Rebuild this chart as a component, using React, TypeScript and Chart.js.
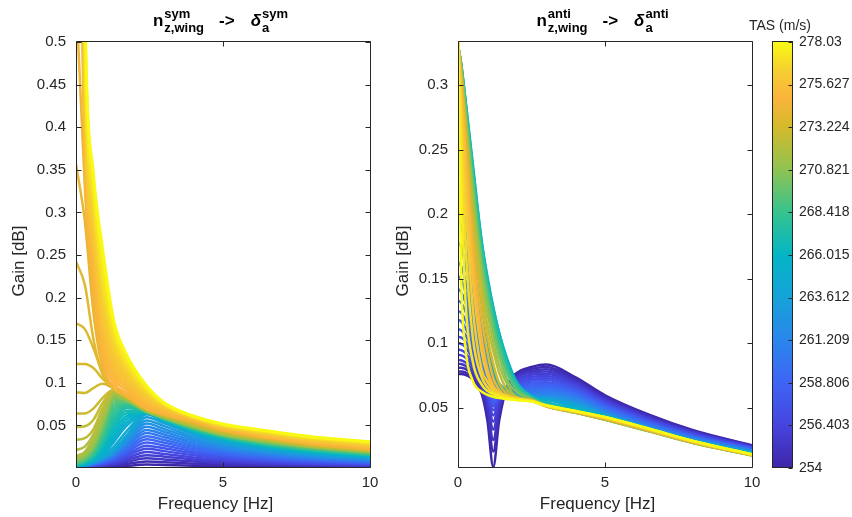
import React, { useEffect, useRef } from 'react';
import { Chart, registerables } from 'chart.js';

Chart.register(...registerables);

const FONT = "'Liberation Sans', Arial, Helvetica, sans-serif";
const INK = '#262626';

// ---------------- data ----------------
const TAS_MIN = 254;
const TAS_MAX = 278.03;

const FREQ_TICKS = [0, 5, 10];
const SYM_Y_TICKS = [0.05, 0.1, 0.15, 0.2, 0.25, 0.3, 0.35, 0.4, 0.45, 0.5];
const ANTI_Y_TICKS = [0.05, 0.1, 0.15, 0.2, 0.25, 0.3];
const COLORBAR_TICKS = [254, 256.403, 258.806, 261.209, 263.612, 266.015, 268.418, 270.821, 273.224, 275.627, 278.03];
const COLORBAR_LABELS = ['254', '256.403', '258.806', '261.209', '263.612', '266.015', '268.418', '270.821', '273.224', '275.627', '278.03'];

// left panel: n_z,wing^sym -> delta_a^sym
const SYM_FREQ = [0, 0.3, 0.6, 0.9, 1.3, 1.7, 2.4, 3, 4, 5, 6.5, 8, 10];
const SYM_TAS = [
  254.00, 254.63, 255.26, 255.89, 256.52, 257.15, 257.78, 258.42, 259.05, 259.68, 260.31, 260.94, 261.57, 262.20, 262.83, 263.46, 264.09,
  264.45,
  264.81, 265.23, 265.65, 266.08, 266.50, 266.92, 267.34, 267.76, 268.18, 268.60, 269.02, 269.44, 269.86, 270.28, 270.70, 271.06, 271.42,
  271.90, 272.14, 272.38, 272.62, 272.86, 273.10, 273.34, 273.58, 273.82, 274.07, 274.31,
  274.67, 274.85, 275.03, 275.21, 275.39, 275.57, 275.75, 275.93, 276.11, 276.29, 276.47, 276.65, 276.83, 277.01, 277.19, 277.37, 277.55, 277.79, 278.03,
];
const SYM_GAIN = [
  [0.0001, 0.0002, 0.0005, 0.0008, 0.0014, 0.0024, 0.0040, 0.0035, 0.0026, 0.0020, 0.0014, 0.0011, 0.0008],
  [0.0002, 0.0005, 0.0009, 0.0015, 0.0027, 0.0046, 0.0077, 0.0068, 0.0051, 0.0039, 0.0028, 0.0021, 0.0015],
  [0.0003, 0.0007, 0.0014, 0.0023, 0.0040, 0.0068, 0.0114, 0.0100, 0.0075, 0.0057, 0.0041, 0.0031, 0.0023],
  [0.0005, 0.0009, 0.0018, 0.0030, 0.0053, 0.0091, 0.0151, 0.0133, 0.0100, 0.0076, 0.0054, 0.0041, 0.0030],
  [0.0006, 0.0011, 0.0023, 0.0038, 0.0066, 0.0113, 0.0188, 0.0165, 0.0124, 0.0094, 0.0068, 0.0051, 0.0038],
  [0.0007, 0.0014, 0.0027, 0.0045, 0.0079, 0.0135, 0.0225, 0.0198, 0.0149, 0.0113, 0.0081, 0.0061, 0.0045],
  [0.0008, 0.0016, 0.0031, 0.0052, 0.0092, 0.0157, 0.0262, 0.0231, 0.0173, 0.0131, 0.0094, 0.0071, 0.0052],
  [0.0009, 0.0018, 0.0036, 0.0060, 0.0105, 0.0179, 0.0299, 0.0263, 0.0197, 0.0150, 0.0108, 0.0081, 0.0060],
  [0.0010, 0.0020, 0.0040, 0.0067, 0.0118, 0.0202, 0.0336, 0.0296, 0.0222, 0.0168, 0.0121, 0.0091, 0.0067],
  [0.0011, 0.0022, 0.0045, 0.0075, 0.0131, 0.0224, 0.0373, 0.0328, 0.0246, 0.0187, 0.0134, 0.0101, 0.0075],
  [0.0012, 0.0025, 0.0049, 0.0082, 0.0144, 0.0246, 0.0410, 0.0361, 0.0271, 0.0205, 0.0148, 0.0111, 0.0082],
  [0.0013, 0.0027, 0.0054, 0.0089, 0.0156, 0.0268, 0.0447, 0.0393, 0.0295, 0.0224, 0.0161, 0.0121, 0.0089],
  [0.0015, 0.0029, 0.0058, 0.0097, 0.0169, 0.0290, 0.0484, 0.0426, 0.0319, 0.0242, 0.0174, 0.0131, 0.0097],
  [0.0016, 0.0031, 0.0063, 0.0104, 0.0182, 0.0313, 0.0521, 0.0458, 0.0344, 0.0261, 0.0188, 0.0141, 0.0104],
  [0.0017, 0.0033, 0.0067, 0.0112, 0.0195, 0.0335, 0.0558, 0.0491, 0.0368, 0.0279, 0.0201, 0.0151, 0.0112],
  [0.0018, 0.0036, 0.0071, 0.0119, 0.0208, 0.0357, 0.0595, 0.0524, 0.0393, 0.0298, 0.0214, 0.0161, 0.0119],
  [0.0019, 0.0038, 0.0076, 0.0126, 0.0221, 0.0378, 0.0630, 0.0554, 0.0416, 0.0315, 0.0227, 0.0170, 0.0126],
  [0.0017, 0.0039, 0.0078, 0.0135, 0.0255, 0.0425, 0.0635, 0.0550, 0.0418, 0.0322, 0.0234, 0.0175, 0.0128],
  [0.001, 0.004, 0.008, 0.015, 0.031, 0.049, 0.064, 0.055, 0.042, 0.033, 0.024, 0.018, 0.013],
  [0.0015, 0.0045, 0.009, 0.017, 0.035, 0.053, 0.0645, 0.0555, 0.0425, 0.0335, 0.0245, 0.0185, 0.0135],
  [0.002, 0.005, 0.010, 0.019, 0.039, 0.057, 0.065, 0.056, 0.043, 0.034, 0.025, 0.019, 0.014],
  [0.0025, 0.0055, 0.011, 0.0215, 0.0435, 0.0605, 0.065, 0.0565, 0.0435, 0.0345, 0.0255, 0.0195, 0.0145],
  [0.003, 0.006, 0.012, 0.024, 0.048, 0.064, 0.065, 0.057, 0.044, 0.035, 0.026, 0.020, 0.015],
  [0.0035, 0.0065, 0.013, 0.0265, 0.0525, 0.067, 0.0655, 0.057, 0.0445, 0.0355, 0.0265, 0.0205, 0.0152],
  [0.004, 0.007, 0.014, 0.029, 0.057, 0.070, 0.066, 0.057, 0.045, 0.036, 0.027, 0.021, 0.0155],
  [0.0045, 0.0075, 0.0155, 0.032, 0.0615, 0.072, 0.066, 0.0575, 0.0455, 0.0365, 0.0275, 0.0215, 0.0157],
  [0.005, 0.008, 0.017, 0.035, 0.066, 0.074, 0.066, 0.058, 0.046, 0.037, 0.028, 0.022, 0.016],
  [0.0055, 0.009, 0.0185, 0.038, 0.070, 0.0755, 0.066, 0.058, 0.0465, 0.0375, 0.0285, 0.0225, 0.0165],
  [0.006, 0.010, 0.020, 0.041, 0.074, 0.077, 0.066, 0.058, 0.047, 0.038, 0.029, 0.023, 0.017],
  [0.007, 0.011, 0.0215, 0.044, 0.077, 0.078, 0.066, 0.0585, 0.0475, 0.0385, 0.0295, 0.0235, 0.0175],
  [0.008, 0.012, 0.023, 0.047, 0.080, 0.079, 0.066, 0.059, 0.048, 0.039, 0.030, 0.024, 0.018],
  [0.009, 0.013, 0.025, 0.0495, 0.082, 0.0795, 0.0665, 0.059, 0.048, 0.039, 0.0305, 0.0245, 0.0185],
  [0.010, 0.014, 0.027, 0.052, 0.084, 0.080, 0.067, 0.059, 0.048, 0.039, 0.031, 0.025, 0.019],
  [0.011, 0.015, 0.029, 0.0545, 0.0855, 0.0805, 0.067, 0.0595, 0.0485, 0.0395, 0.0315, 0.025, 0.019],
  [0.012, 0.016, 0.031, 0.057, 0.087, 0.081, 0.067, 0.060, 0.049, 0.040, 0.032, 0.025, 0.019],
  [0.014, 0.019, 0.036, 0.062, 0.089, 0.082, 0.068, 0.061, 0.050, 0.041, 0.033, 0.026, 0.020],
  [0.021, 0.025, 0.040, 0.066, 0.090, 0.083, 0.068, 0.061, 0.050, 0.041, 0.033, 0.026, 0.020],
  [0.033, 0.035, 0.046, 0.070, 0.091, 0.083, 0.069, 0.061, 0.051, 0.042, 0.033, 0.026, 0.0205],
  [0.048, 0.049, 0.057, 0.076, 0.092, 0.084, 0.069, 0.062, 0.051, 0.042, 0.034, 0.027, 0.021],
  [0.064, 0.064, 0.070, 0.082, 0.092, 0.084, 0.069, 0.062, 0.052, 0.043, 0.034, 0.027, 0.021],
  [0.089, 0.088, 0.094, 0.099, 0.093, 0.084, 0.069, 0.062, 0.052, 0.043, 0.034, 0.027, 0.021],
  [0.122, 0.122, 0.117, 0.105, 0.093, 0.085, 0.069, 0.062, 0.053, 0.043, 0.035, 0.028, 0.0215],
  [0.170, 0.163, 0.140, 0.112, 0.093, 0.085, 0.069, 0.062, 0.053, 0.044, 0.035, 0.028, 0.0215],
  [0.242, 0.215, 0.150, 0.110, 0.093, 0.085, 0.070, 0.063, 0.054, 0.044, 0.035, 0.028, 0.022],
  [0.357, 0.290, 0.180, 0.118, 0.093, 0.085, 0.070, 0.063, 0.054, 0.044, 0.036, 0.028, 0.022],
  [0.560, 0.330, 0.195, 0.122, 0.093, 0.085, 0.070, 0.063, 0.054, 0.045, 0.036, 0.029, 0.0225],
  [0.90, 0.355, 0.215, 0.128, 0.094, 0.085, 0.070, 0.063, 0.055, 0.045, 0.036, 0.029, 0.023],
  [0.95, 0.368, 0.225, 0.1365, 0.099, 0.0885, 0.072, 0.0645, 0.0555, 0.0455, 0.0365, 0.0295, 0.0235],
  [1.00, 0.380, 0.235, 0.145, 0.104, 0.092, 0.074, 0.066, 0.056, 0.046, 0.037, 0.030, 0.024],
  [1.05, 0.390, 0.2435, 0.1525, 0.109, 0.095, 0.0755, 0.067, 0.0565, 0.0465, 0.0375, 0.0305, 0.0245],
  [1.10, 0.400, 0.252, 0.160, 0.114, 0.098, 0.077, 0.068, 0.057, 0.047, 0.038, 0.031, 0.025],
  [1.15, 0.410, 0.260, 0.1675, 0.119, 0.101, 0.079, 0.069, 0.0575, 0.0475, 0.0385, 0.0315, 0.0255],
  [1.20, 0.420, 0.268, 0.175, 0.124, 0.104, 0.081, 0.070, 0.058, 0.048, 0.039, 0.032, 0.026],
  [1.25, 0.430, 0.2755, 0.1825, 0.1285, 0.107, 0.0825, 0.071, 0.058, 0.0485, 0.0395, 0.0325, 0.0265],
  [1.30, 0.440, 0.283, 0.190, 0.133, 0.110, 0.084, 0.072, 0.058, 0.049, 0.040, 0.033, 0.027],
  [1.35, 0.455, 0.290, 0.1975, 0.1375, 0.113, 0.0855, 0.0725, 0.0585, 0.049, 0.0405, 0.0335, 0.0275],
  [1.40, 0.470, 0.297, 0.205, 0.142, 0.116, 0.087, 0.073, 0.059, 0.049, 0.041, 0.034, 0.028],
  [1.45, 0.480, 0.3035, 0.2115, 0.1465, 0.1185, 0.0885, 0.0735, 0.0595, 0.0495, 0.0415, 0.0345, 0.0285],
  [1.50, 0.490, 0.310, 0.218, 0.151, 0.121, 0.090, 0.074, 0.060, 0.050, 0.042, 0.035, 0.029],
  [1.57, 0.500, 0.316, 0.225, 0.155, 0.1235, 0.0915, 0.0745, 0.060, 0.0505, 0.0425, 0.0355, 0.0295],
  [1.65, 0.510, 0.322, 0.232, 0.159, 0.126, 0.093, 0.075, 0.060, 0.051, 0.043, 0.036, 0.030],
  [1.72, 0.525, 0.328, 0.239, 0.162, 0.1285, 0.094, 0.0755, 0.0605, 0.051, 0.043, 0.036, 0.0302],
  [1.80, 0.540, 0.334, 0.246, 0.165, 0.131, 0.095, 0.076, 0.061, 0.051, 0.043, 0.036, 0.0305],
  [1.90, 0.555, 0.3395, 0.253, 0.1685, 0.133, 0.096, 0.0765, 0.061, 0.0515, 0.0435, 0.0365, 0.0308],
  [2.00, 0.570, 0.345, 0.260, 0.172, 0.135, 0.097, 0.077, 0.061, 0.052, 0.044, 0.037, 0.031],
];

// right panel: n_z,wing^anti -> delta_a^anti
const ANTI_FREQ = [0, 0.1, 0.25, 0.5, 0.8, 1.0, 1.2, 1.4, 1.7, 2.0, 2.5, 3, 4, 5, 6.5, 8, 10];
const ANTI_TAS = [
  254.00, 254.48, 254.96, 255.44, 255.92, 256.40, 256.88, 257.36, 257.84, 258.33, 258.81,
  259.29, 259.77, 260.25, 260.73, 261.21, 261.93, 262.65, 263.37, 264.09, 264.81,
  265.53, 266.50, 267.46, 268.42, 269.38, 270.34, 271.30, 272.26, 273.22, 274.19, 274.91, 275.63, 276.23, 276.83, 277.43, 278.03,
];
const ANTI_GAIN = [
  [0.076, 0.0762, 0.0755, 0.072, 0.061, 0.040, 0.004, 0.040, 0.068, 0.077, 0.0815, 0.0834, 0.0735, 0.0596, 0.0445, 0.0325, 0.0208],
  [0.078, 0.0781, 0.0773, 0.0735, 0.0625, 0.046, 0.016, 0.045, 0.067, 0.0755, 0.0800, 0.0815, 0.0722, 0.0585, 0.0437, 0.0319, 0.0205],
  [0.081, 0.0809, 0.080, 0.0755, 0.064, 0.050, 0.025, 0.049, 0.066, 0.075, 0.0785, 0.0797, 0.071, 0.0575, 0.043, 0.0314, 0.0202],
  [0.084, 0.0838, 0.0825, 0.0775, 0.0655, 0.054, 0.033, 0.052, 0.065, 0.0735, 0.077, 0.078, 0.0698, 0.0566, 0.0423, 0.0309, 0.0199],
  [0.087, 0.0868, 0.0852, 0.0795, 0.067, 0.057, 0.039, 0.0545, 0.0645, 0.072, 0.0755, 0.0763, 0.0686, 0.0557, 0.0416, 0.0304, 0.0196],
  [0.091, 0.0907, 0.0888, 0.082, 0.0685, 0.059, 0.044, 0.0565, 0.064, 0.0705, 0.074, 0.0746, 0.0674, 0.0548, 0.0409, 0.0299, 0.0193],
  [0.095, 0.0946, 0.0925, 0.0845, 0.070, 0.061, 0.048, 0.058, 0.0635, 0.069, 0.0725, 0.073, 0.0662, 0.0539, 0.0403, 0.0294, 0.019],
  [0.100, 0.0995, 0.097, 0.0875, 0.0715, 0.0625, 0.051, 0.059, 0.063, 0.0675, 0.071, 0.0714, 0.065, 0.053, 0.0397, 0.0289, 0.0187],
  [0.105, 0.1045, 0.1015, 0.0905, 0.073, 0.064, 0.053, 0.0595, 0.0625, 0.066, 0.0695, 0.0698, 0.0639, 0.0522, 0.0391, 0.0285, 0.0184],
  [0.111, 0.110, 0.1065, 0.094, 0.075, 0.065, 0.055, 0.0595, 0.062, 0.065, 0.068, 0.0683, 0.0628, 0.0514, 0.0385, 0.0281, 0.0181],
  [0.118, 0.117, 0.112, 0.098, 0.077, 0.066, 0.057, 0.0595, 0.0615, 0.064, 0.0665, 0.0668, 0.0617, 0.0506, 0.0379, 0.0277, 0.0178],
  [0.125, 0.1238, 0.118, 0.102, 0.079, 0.0675, 0.059, 0.060, 0.061, 0.063, 0.065, 0.0654, 0.0607, 0.0498, 0.0373, 0.0273, 0.0175],
  [0.133, 0.1315, 0.125, 0.1065, 0.081, 0.069, 0.0605, 0.0605, 0.0607, 0.062, 0.0637, 0.064, 0.0597, 0.049, 0.0367, 0.0269, 0.0172],
  [0.142, 0.140, 0.132, 0.111, 0.084, 0.071, 0.062, 0.061, 0.0605, 0.061, 0.0624, 0.0627, 0.0587, 0.0482, 0.0361, 0.0265, 0.0169],
  [0.152, 0.150, 0.140, 0.116, 0.087, 0.073, 0.0635, 0.0615, 0.0605, 0.0605, 0.0612, 0.0614, 0.0578, 0.0474, 0.0355, 0.0261, 0.0166],
  [0.163, 0.160, 0.149, 0.122, 0.090, 0.0755, 0.065, 0.062, 0.0605, 0.060, 0.0601, 0.0602, 0.0565, 0.0467, 0.035, 0.0257, 0.0163],
  [0.178, 0.175, 0.161, 0.130, 0.094, 0.078, 0.067, 0.063, 0.0605, 0.0597, 0.0592, 0.059, 0.0552, 0.046, 0.0345, 0.0253, 0.016],
  [0.196, 0.192, 0.176, 0.139, 0.099, 0.081, 0.069, 0.064, 0.061, 0.0595, 0.0584, 0.058, 0.054, 0.0453, 0.034, 0.0249, 0.0157],
  [0.218, 0.213, 0.193, 0.150, 0.105, 0.085, 0.0715, 0.065, 0.0612, 0.0594, 0.0577, 0.0572, 0.0528, 0.0447, 0.0335, 0.0245, 0.0154],
  [0.245, 0.239, 0.214, 0.163, 0.112, 0.090, 0.075, 0.0665, 0.0618, 0.0595, 0.0572, 0.0565, 0.0516, 0.0442, 0.0331, 0.0242, 0.0151],
  [0.280, 0.272, 0.240, 0.180, 0.122, 0.097, 0.079, 0.069, 0.063, 0.060, 0.057, 0.056, 0.0505, 0.0438, 0.0327, 0.0239, 0.0148],
  [0.330, 0.318, 0.290, 0.240, 0.180, 0.152, 0.128, 0.108, 0.086, 0.070, 0.059, 0.0545, 0.0495, 0.0435, 0.034, 0.0245, 0.0145],
  [0.3305, 0.318, 0.289, 0.237, 0.180, 0.150, 0.127, 0.108, 0.084, 0.069, 0.0585, 0.0538, 0.0485, 0.0428, 0.0334, 0.024, 0.0141],
  [0.331, 0.318, 0.288, 0.234, 0.177, 0.147, 0.123, 0.104, 0.081, 0.068, 0.058, 0.053, 0.0477, 0.0421, 0.0328, 0.0235, 0.0137],
  [0.3315, 0.317, 0.286, 0.231, 0.172, 0.143, 0.119, 0.100, 0.079, 0.066, 0.0575, 0.0522, 0.0469, 0.0414, 0.0322, 0.023, 0.0133],
  [0.332, 0.316, 0.283, 0.226, 0.166, 0.138, 0.113, 0.095, 0.075, 0.064, 0.057, 0.0516, 0.0463, 0.0408, 0.0318, 0.0227, 0.013],
  [0.3322, 0.315, 0.280, 0.221, 0.160, 0.132, 0.108, 0.090, 0.070, 0.062, 0.0566, 0.0512, 0.046, 0.0405, 0.0316, 0.0225, 0.0129],
  [0.3325, 0.314, 0.276, 0.213, 0.152, 0.124, 0.101, 0.083, 0.067, 0.0585, 0.0562, 0.051, 0.046, 0.0406, 0.0317, 0.0226, 0.013],
  [0.3328, 0.312, 0.272, 0.205, 0.144, 0.114, 0.094, 0.077, 0.063, 0.058, 0.056, 0.051, 0.0462, 0.0408, 0.0319, 0.0228, 0.0131],
  [0.333, 0.310, 0.267, 0.194, 0.134, 0.105, 0.084, 0.069, 0.060, 0.057, 0.0558, 0.051, 0.0464, 0.0411, 0.0322, 0.023, 0.0132],
  [0.3332, 0.307, 0.258, 0.178, 0.120, 0.093, 0.073, 0.064, 0.058, 0.0565, 0.0556, 0.0511, 0.0466, 0.0414, 0.0325, 0.0232, 0.0134],
  [0.3334, 0.303, 0.248, 0.165, 0.105, 0.080, 0.067, 0.061, 0.058, 0.0565, 0.0554, 0.0512, 0.0468, 0.0417, 0.0328, 0.0234, 0.0135],
  [0.3335, 0.297, 0.235, 0.150, 0.094, 0.075, 0.066, 0.062, 0.059, 0.0575, 0.0552, 0.0514, 0.047, 0.042, 0.033, 0.0236, 0.0136],
  [0.3336, 0.289, 0.215, 0.128, 0.080, 0.070, 0.064, 0.061, 0.0585, 0.057, 0.0551, 0.0515, 0.0471, 0.0423, 0.0332, 0.0238, 0.0137],
  [0.3336, 0.272, 0.180, 0.105, 0.074, 0.066, 0.062, 0.060, 0.058, 0.0567, 0.055, 0.0516, 0.0472, 0.0425, 0.0334, 0.024, 0.0137],
  [0.3335, 0.235, 0.135, 0.086, 0.068, 0.063, 0.0605, 0.059, 0.0573, 0.0562, 0.0549, 0.0517, 0.0473, 0.0427, 0.0336, 0.0241, 0.0138],
  [0.333, 0.158, 0.097, 0.071, 0.0625, 0.060, 0.0585, 0.0575, 0.0565, 0.0557, 0.0548, 0.0518, 0.0474, 0.0428, 0.0337, 0.0242, 0.0138],
];

// ---------------- colour map (parula-like) ----------------
const PARULA: number[][] = [
  [0.0, 62, 38, 168],
  [0.1, 70, 68, 222],
  [0.2, 62, 100, 245],
  [0.3, 42, 134, 236],
  [0.4, 22, 162, 216],
  [0.5, 4, 181, 198],
  [0.6, 54, 195, 142],
  [0.7, 143, 195, 82],
  [0.8, 212, 186, 43],
  [0.87, 251, 180, 60],
  [0.93, 246, 205, 50],
  [1.0, 249, 250, 20],
];

function parula(t: number): string {
  const u = Math.min(1, Math.max(0, t));
  for (let i = 1; i < PARULA.length; i++) {
    const b = PARULA[i];
    if (u <= b[0]) {
      const a = PARULA[i - 1];
      const k = (u - a[0]) / (b[0] - a[0]);
      const c = [1, 2, 3].map((j) => Math.round(a[j] + (b[j] - a[j]) * k));
      return `rgb(${c[0]},${c[1]},${c[2]})`;
    }
  }
  const l = PARULA[PARULA.length - 1];
  return `rgb(${l[1]},${l[2]},${l[3]})`;
}

const tasColor = (t: number) => parula((t - TAS_MIN) / (TAS_MAX - TAS_MIN));

// ---------------- plugins ----------------
type TitlePart = { text?: string; italic?: boolean; sup?: string; sub?: string; gap?: number };

function drawTitle(ctx: CanvasRenderingContext2D, cx: number, base: number, parts: TitlePart[]) {
  const MAIN = `bold 17px ${FONT}`;
  const MAIN_IT = `italic bold 17px ${FONT}`;
  const SMALL = `bold 13px ${FONT}`;
  const widths = parts.map((p) => {
    if (p.gap) return p.gap;
    if (p.text) {
      ctx.font = p.italic ? MAIN_IT : MAIN;
      return ctx.measureText(p.text).width;
    }
    ctx.font = SMALL;
    return Math.max(ctx.measureText(p.sup || '').width, ctx.measureText(p.sub || '').width) + 1;
  });
  const total = widths.reduce((s, w) => s + w, 0);
  let x = cx - total / 2;
  ctx.fillStyle = '#000';
  ctx.textAlign = 'left';
  ctx.textBaseline = 'alphabetic';
  parts.forEach((p, i) => {
    if (p.text) {
      ctx.font = p.italic ? MAIN_IT : MAIN;
      ctx.fillText(p.text, x, base);
    } else if (!p.gap) {
      ctx.font = SMALL;
      if (p.sup) ctx.fillText(p.sup, x + 1, base - 8);
      if (p.sub) ctx.fillText(p.sub, x + 1, base + 5.5);
    }
    x += widths[i];
  });
}

function axesPlugin(cfg: {
  title: TitlePart[];
  xLabel: string;
  yLabel: string;
  yLabelX: number;
  yTicks: number[];
}) {
  return {
    id: 'matlabAxes',
    afterDraw(chart: any) {
      const { ctx, chartArea: a, scales } = chart;
      ctx.save();
      ctx.strokeStyle = INK;
      ctx.lineWidth = 1;
      const L = Math.round(a.left) + 0.5;
      const R = Math.round(a.right) + 0.5;
      const T = Math.round(a.top) - 0.5;
      const B = Math.round(a.bottom) - 0.5;
      ctx.beginPath();
      ctx.moveTo(L, T); ctx.lineTo(R, T); ctx.lineTo(R, B); ctx.lineTo(L, B); ctx.closePath();
      ctx.stroke();
      const TL = 5;
      ctx.beginPath();
      FREQ_TICKS.forEach((v) => {
        const px = Math.round(scales.x.getPixelForValue(v)) + 0.5;
        ctx.moveTo(px, B); ctx.lineTo(px, B - TL);
        ctx.moveTo(px, T); ctx.lineTo(px, T + TL);
      });
      cfg.yTicks.forEach((v) => {
        const py = Math.round(scales.y.getPixelForValue(v)) + 0.5;
        ctx.moveTo(L, py); ctx.lineTo(L + TL, py);
        ctx.moveTo(R, py); ctx.lineTo(R - TL, py);
      });
      ctx.stroke();

      const cx = (a.left + a.right) / 2;
      drawTitle(ctx, cx - 2.5, 26, cfg.title);

      ctx.fillStyle = INK;
      ctx.font = `17px ${FONT}`;
      ctx.textAlign = 'center';
      ctx.textBaseline = 'alphabetic';
      ctx.fillText(cfg.xLabel, cx - 7.5, 509);

      ctx.save();
      ctx.translate(cfg.yLabelX, 261);
      ctx.rotate(-Math.PI / 2);
      ctx.textBaseline = 'middle';
      ctx.fillText(cfg.yLabel, 0, 0);
      ctx.restore();
      ctx.restore();
    },
  };
}

const colorbarPlugin = {
  id: 'colorbarFrame',
  afterDraw(chart: any) {
    const { ctx, chartArea: a, scales } = chart;
    ctx.save();
    ctx.strokeStyle = INK;
    ctx.lineWidth = 1;
    const L = Math.round(a.left) + 0.5;
    const R = Math.round(a.right) - 0.5;
    const T = Math.round(a.top) - 0.5;
    const B = Math.round(a.bottom) - 0.5;
    ctx.strokeRect(L, T, R - L, B - T);
    ctx.beginPath();
    COLORBAR_TICKS.forEach((v) => {
      const py = Math.round(scales.y.getPixelForValue(v)) + 0.5;
      ctx.moveTo(R, py); ctx.lineTo(R - 4, py);
    });
    ctx.stroke();
    ctx.fillStyle = INK;
    ctx.font = `14px ${FONT}`;
    ctx.textAlign = 'center';
    ctx.textBaseline = 'alphabetic';
    ctx.fillText('TAS (m/s)', 780, 30);
    ctx.restore();
  },
};

function fmt(v: number): string {
  return String(Number(v.toFixed(4)));
}

function lineConfig(
  freq: number[],
  tas: number[],
  gain: number[][],
  yMin: number,
  yMax: number,
  yTicks: number[],
  areaLeft: number,
  areaRight: number,
  plugin: any,
) {
  return {
    type: 'line',
    data: {
      datasets: gain.map((row, i) => ({
        data: row.map((g, j) => ({ x: freq[j], y: g })),
        borderColor: tasColor(tas[i]),
        borderWidth: 2.5,
        pointRadius: 0,
        fill: false,
        cubicInterpolationMode: 'monotone',
        // higher TAS drawn on top (lower order = drawn later)
        order: gain.length - i,
      })),
    },
    options: {
      responsive: false,
      animation: false,
      events: [],
      layout: { padding: { left: 0, top: 42, right: 852 - areaRight, bottom: 0 } },
      plugins: { legend: { display: false }, tooltip: { enabled: false }, title: { display: false } },
      scales: {
        x: {
          type: 'linear',
          min: 0,
          max: 10,
          afterBuildTicks: (s: any) => { s.ticks = FREQ_TICKS.map((v) => ({ value: v })); },
          afterFit: (s: any) => { s.height = 517 - 468; },
          grid: { display: false, drawTicks: false },
          border: { display: false },
          ticks: { color: INK, font: { family: FONT, size: 15 }, padding: 6, maxRotation: 0, callback: (v: number) => fmt(v) },
        },
        y: {
          type: 'linear',
          min: yMin,
          max: yMax,
          afterBuildTicks: (s: any) => { s.ticks = yTicks.map((v) => ({ value: v })); },
          afterFit: (s: any) => { s.width = areaLeft; },
          grid: { display: false, drawTicks: false },
          border: { display: false },
          ticks: { color: INK, font: { family: FONT, size: 15 }, padding: 10, callback: (v: number) => fmt(v) },
        },
      },
    },
    plugins: [plugin],
  };
}

export default function App() {
  const leftRef = useRef<HTMLCanvasElement>(null);
  const rightRef = useRef<HTMLCanvasElement>(null);
  const cbRef = useRef<HTMLCanvasElement>(null);

  useEffect(() => {
    const charts: Chart[] = [];
    const leftPlugin = axesPlugin({
      title: [{ text: 'n' }, { sup: 'sym', sub: 'z,wing' }, { gap: 15 }, { text: '->' }, { gap: 16 }, { text: 'δ', italic: true }, { sup: 'sym', sub: 'a' }],
      xLabel: 'Frequency [Hz]',
      yLabel: 'Gain [dB]',
      yLabelX: 19.5,
      yTicks: SYM_Y_TICKS,
    });
    const rightPlugin = axesPlugin({
      title: [{ text: 'n' }, { sup: 'anti', sub: 'z,wing' }, { gap: 15 }, { text: '->' }, { gap: 16 }, { text: 'δ', italic: true }, { sup: 'anti', sub: 'a' }],
      xLabel: 'Frequency [Hz]',
      yLabel: 'Gain [dB]',
      yLabelX: 403,
      yTicks: ANTI_Y_TICKS,
    });
    if (leftRef.current) {
      charts.push(new Chart(leftRef.current, lineConfig(SYM_FREQ, SYM_TAS, SYM_GAIN, 0, 0.5, SYM_Y_TICKS, 76, 370, leftPlugin) as any));
    }
    if (rightRef.current) {
      charts.push(new Chart(rightRef.current, lineConfig(ANTI_FREQ, ANTI_TAS, ANTI_GAIN, 0.0032, 0.3336, ANTI_Y_TICKS, 458, 752, rightPlugin) as any));
    }
    if (cbRef.current) {
      charts.push(
        new Chart(cbRef.current, {
          type: 'bar',
          data: {
            labels: ['TAS'],
            datasets: [
              {
                data: [[TAS_MIN, TAS_MAX]] as any,
                backgroundColor: (c: any) => {
                  const { ctx, chartArea } = c.chart;
                  if (!chartArea) return 'rgba(0,0,0,0)';
                  const g = ctx.createLinearGradient(0, chartArea.bottom, 0, chartArea.top);
                  PARULA.forEach((s) => g.addColorStop(s[0], `rgb(${s[1]},${s[2]},${s[3]})`));
                  return g;
                },
                borderWidth: 0,
                barPercentage: 1,
                categoryPercentage: 1,
              },
            ],
          },
          options: {
            responsive: false,
            animation: false,
            events: [],
            layout: { padding: { left: 772, right: 0, top: 42, bottom: 517 - 468 } },
            plugins: { legend: { display: false }, tooltip: { enabled: false } },
            scales: {
              x: { display: false },
              y: {
                position: 'right',
                min: TAS_MIN,
                max: TAS_MAX,
                afterBuildTicks: (s: any) => { s.ticks = COLORBAR_TICKS.map((v) => ({ value: v })); },
                afterFit: (s: any) => { s.width = 852 - 793; },
                grid: { display: false, drawTicks: false },
                border: { display: false },
                ticks: { color: INK, font: { family: FONT, size: 14 }, padding: 6, callback: (_v: any, i: number) => COLORBAR_LABELS[i] },
              },
            },
          },
          plugins: [colorbarPlugin],
        } as any),
      );
    }
    return () => charts.forEach((c) => c.destroy());
  }, []);

  const cs: React.CSSProperties = { position: 'absolute', left: 0, top: 0, width: 852, height: 517 };
  return (
    <div style={{ position: 'absolute', left: 0, top: 0, width: 852, height: 517, background: '#fff' }}>
      <canvas ref={leftRef} width={852} height={517} style={cs} />
      <canvas ref={rightRef} width={852} height={517} style={cs} />
      <canvas ref={cbRef} width={852} height={517} style={cs} />
    </div>
  );
}
